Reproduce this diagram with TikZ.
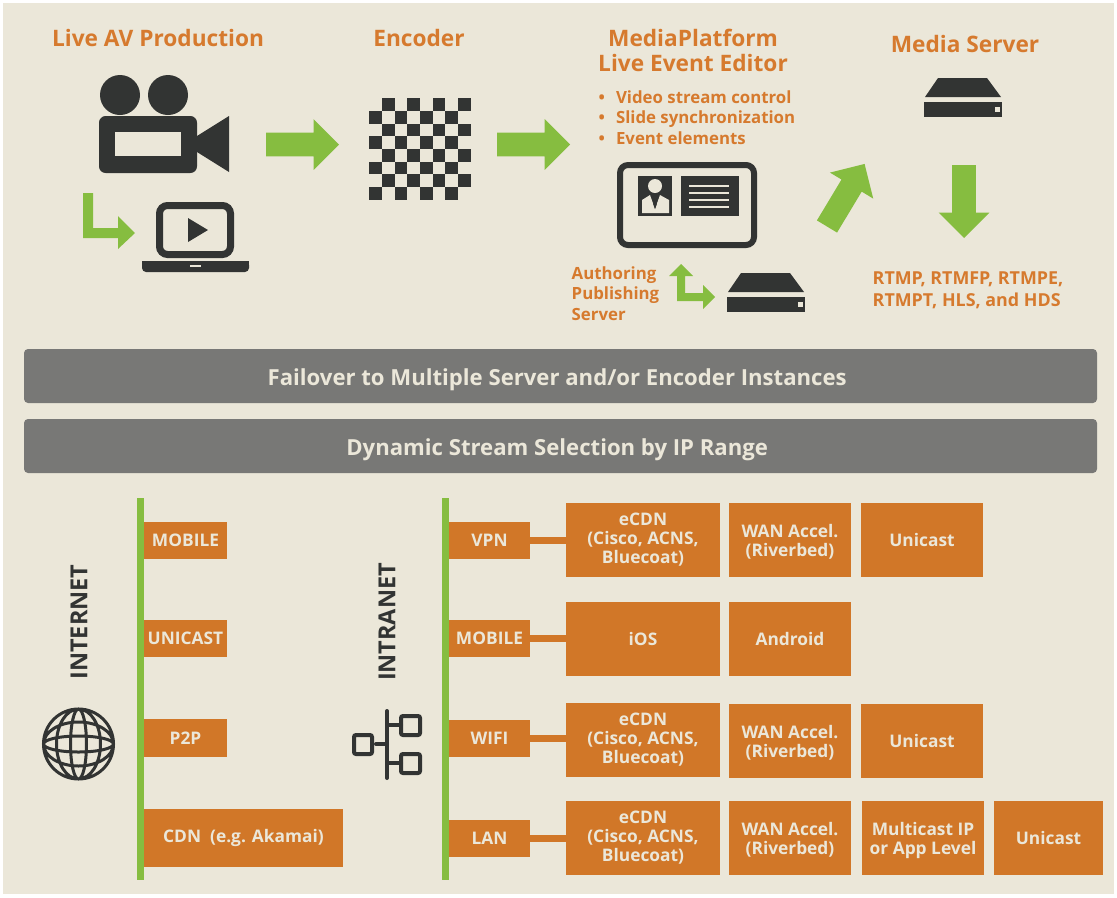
\documentclass[tikz,border=0pt]{standalone}
\usepackage{fontspec}
\setmainfont{Open Sans}
\usetikzlibrary{shapes.arrows}
\def\px{0.75pt}
\begin{document}
\begin{tikzpicture}[x=0.75pt,y=-0.75pt,
        heading/.style={text=textorange,font=\fontsize{17}{18.75}\selectfont\bfseries,align=center},
        smalltext/.style={text=textorange,font=\fontsize{12.6}{15.4}\selectfont\bfseries,align=left,anchor=west},
        barbox/.style={fill=bargrey,rounded corners=3pt,minimum width=1073*\px,minimum height=54*\px,
          text=cream,text height=13.5pt,text depth=0pt,font=\fontsize{16.6}{18}\selectfont\bfseries},
        orangebox/.style 2 args={fill=boxorange,text=cream,inner sep=0pt,outer sep=0pt,align=center,
          minimum width=#1*\px,minimum height=#2*\px,font=\fontsize{13}{14.25}\selectfont\bfseries},
        twolines/.style={text height=27.5pt},
        sidelabel/.style={text=darkicon,rotate=90,font=\fontsize{17.6}{18}\selectfont\bfseries},
        greenarrow/.style={single arrow,fill=arrowgreen,inner sep=0pt,outer sep=0pt,anchor=tail,
          text width=0pt,text height=23*\px,text depth=0pt,minimum width=50*\px,minimum height=73*\px,
          single arrow head extend=13.5*\px,single arrow tip angle=90},
        greenbar/.style={fill=arrowgreen},
        linkline/.style={draw=boxorange,line width=7*\px},
        servericon/.pic={
          \fill[darkicon] (1,19) -- (77,19) -- (63,0) -- (14,0) -- cycle;
          \fill[darkicon] (0,24) rectangle (78,39);
          \fill[cream] (71,29) rectangle (76,34);
        }]
        \definecolor{cream}{HTML}{EBE7D9}
        \definecolor{textorange}{HTML}{D67A2E}
        \definecolor{boxorange}{HTML}{D17728}
        \definecolor{bargrey}{HTML}{787876}
        \definecolor{darkicon}{HTML}{323433}
        \definecolor{arrowgreen}{HTML}{86BD40}

        \useasboundingbox (0,0) rectangle (1117,897);
        \fill[cream] (3,3) rectangle (1114,894);

        % top row
        \node[heading] (liveav) at (158,38) {Live AV Production};
        \node[heading] (encoder) at (419,38) {Encoder};
        \node[heading] (platform) at (693,50) {MediaPlatform\\Live Event Editor};
        \node[heading] (mediaserver) at (965,44) {Media Server};
        \node[smalltext] (features) at (594,117.5) {\makebox[13pt][l]{\textbullet}Video stream control\\
          \makebox[13pt][l]{\textbullet}Slide synchronization\\
          \makebox[13pt][l]{\textbullet}Event elements};
        \node[smalltext] (authoring) at (567,293.5) {Authoring\\Publishing\\Server};
        \node[smalltext,font=\fontsize{13.4}{16.5}\selectfont\bfseries] (protocols) at (868,290) {RTMP, RTMFP, RTMPE,\\RTMPT, HLS, and HDS};

        % camera
        \fill[darkicon] (120,95) circle (20) (168,95) circle (20);
        \fill[darkicon,even odd rule,rounded corners=5pt] (99,116) rectangle (197,173);
        \fill[cream] (115,132) rectangle (181,156);
        \fill[darkicon] (197,136) -- (229,116) -- (229,172) -- (197,152) -- cycle;

        % laptop
        \draw[darkicon,line width=7*\px,rounded corners=6pt] (159.5,205.5) rectangle (230.5,254.5);
        \fill[darkicon] (188,218) -- (208,230) -- (188,242) -- cycle;
        \fill[darkicon,rounded corners=3pt] (142,261) -- (142,272) -- (249,272) -- (249,261) -- cycle;
        \fill[darkicon] (142,261) rectangle (249,266);
        \fill[cream] (190,265) rectangle (201,267);

        % checkerboard
        \foreach \row in {0,...,7}
          \foreach \col in {0,...,7} {
            \pgfmathparse{int(mod(\row+\col,2))}
            \ifnum\pgfmathresult=1
              \fill[darkicon] (369.3+12.67*\col,98.3+12.67*\row) rectangle ++(12.67,12.67);
            \fi
          }

        % editor screen
        \draw[darkicon,line width=6*\px,rounded corners=6pt] (620,165) rectangle (754,245);
        \fill[darkicon] (638,176) rectangle (672,216);
        \fill[darkicon] (681,176) rectangle (739,216);
        \fill[cream] (655,186) circle (7);
        \fill[cream] (642,213) -- (642,200) -- (650,195) -- (655,209) -- (660,195) -- (669,200) -- (669,213) -- cycle;
        \fill[darkicon] (653,195) -- (657,195) -- (656.5,205) -- (655,209) -- (653.5,205) -- cycle;
        \foreach \y in {186,193,200,207}
          \fill[cream] (689,\y-0.8) rectangle (729,\y+0.8);

        \pic at (924,78) {servericon};
        \pic at (727,273) {servericon};

        % arrows
        \node[greenarrow] (arrowa) at (266,144.5) {};
        \node[greenarrow] (arrowb) at (497,144.5) {};
        \node[greenarrow,rotate=59] (arrowc) at (827,226.5) {};
        \node[greenarrow,rotate=-90] (arrowd) at (964,165) {};
        \fill[greenbar] (83,193) -- (93,193) -- (93,228) -- (118,228) -- (118,216) -- (135,233) -- (118,249) -- (118,238) -- (83,238) -- cycle;
        \fill[greenbar] (681,264) -- (693,276) -- (685,276) -- (685,293) -- (703,293) -- (703,285) -- (715,297) -- (703,309) -- (703,301) -- (677,301) -- (677,276) -- (669,276) -- cycle;

        % grey bars
        \node[barbox] (failover) at (560.5,376) {Failover to Multiple Server and/or Encoder Instances\hspace*{5pt}};
        \node[barbox] (dynamic) at (560.5,446) {Dynamic Stream Selection by IP Range\hspace*{5pt}};

        % internet column
        \fill[greenbar] (137,498) rectangle (144,880);
        \node[sidelabel] (internet) at (79,622) {INTERNET};
        \node[orangebox={83}{37}] (netmobile) at (185.5,540.5) {MOBILE};
        \node[orangebox={83}{37}] (netunicast) at (185.5,638.5) {UNICAST};
        \node[orangebox={83}{38}] (netptp) at (185.5,738) {P2P};
        \node[orangebox={199}{58}] (netcdn) at (243.5,838) {CDN\ \ (e.g. Akamai)};
        \draw[darkicon,line width=3*\px] (78.5,744) circle (35)
          (78.5,744) ellipse (8 and 35) (78.5,744) ellipse (22 and 35)
          (78.5,744) ellipse (35 and 8) (78.5,744) ellipse (35 and 22);

        % intranet column
        \fill[greenbar] (442,498) rectangle (449,880);
        \node[sidelabel] (intranet) at (387,622) {INTRANET};
        \draw[darkicon,line width=4*\px,line cap=round] (387,711) -- (387,778)
          (376,744) -- (387,744) (387,725) -- (401,725) (387,763) -- (401,763);
        \draw[darkicon,line width=4*\px,rounded corners=1.5pt] (354,735) rectangle (372,754)
          (401,716) rectangle (420,735) (401,754) rectangle (420,773);

        \node[orangebox={81}{37}] (vpn) at (489.5,540.5) {VPN};
        \node[orangebox={81}{37}] (mobile) at (489.5,638.5) {MOBILE};
        \node[orangebox={81}{37}] (wifi) at (489.5,738.5) {WIFI};
        \node[orangebox={81}{37}] (lan) at (489.5,838.5) {LAN};

        \node[orangebox={154}{74}] (vpnecdn) at (643,540) {eCDN\\(Cisco, ACNS,\\Bluecoat)};
        \node[orangebox={122}{74},twolines] (vpnwan) at (790,540) {WAN Accel.\\(Riverbed)};
        \node[orangebox={122}{74}] (vpnuni) at (922,540) {Unicast};
        \node[orangebox={154}{74}] (ios) at (643,639) {iOS};
        \node[orangebox={122}{74}] (android) at (790,639) {Android};
        \node[orangebox={154}{74}] (wifiecdn) at (643,740) {eCDN\\(Cisco, ACNS,\\Bluecoat)};
        \node[orangebox={122}{74},twolines] (wifiwan) at (790,741) {WAN Accel.\\(Riverbed)};
        \node[orangebox={122}{74}] (wifiuni) at (922,741) {Unicast};
        \node[orangebox={154}{74}] (lanecdn) at (643,838) {eCDN\\(Cisco, ACNS,\\Bluecoat)};
        \node[orangebox={122}{74},twolines] (lanwan) at (790,838) {WAN Accel.\\(Riverbed)};
        \node[orangebox={122}{74},twolines] (lanmulti) at (923,838) {Multicast IP\\or App Level};
        \node[orangebox={109}{74}] (lanuni) at (1048.5,838) {Unicast};

        \draw[linkline] (vpn) -- (vpn -| vpnecdn.west);
        \draw[linkline] (mobile) -- (mobile -| ios.west);
        \draw[linkline] (wifi) -- (wifi -| wifiecdn.west);
        \draw[linkline] (lan) -- (lan -| lanecdn.west);
\end{tikzpicture}
\end{document}
